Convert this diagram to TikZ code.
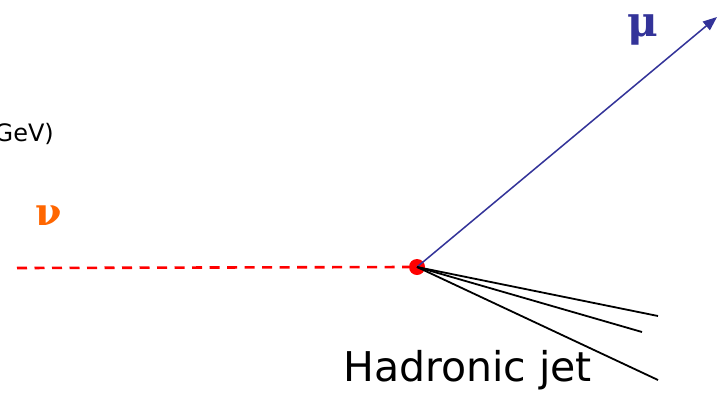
\documentclass[tikz,border=0pt]{standalone}
\usepackage{fontspec}
\setmainfont{DejaVu Sans}
\newfontfamily\symfont{DejaVu Serif}
\usetikzlibrary{arrows.meta}
\definecolor{mublue}{RGB}{51,51,153}
\definecolor{nuorange}{RGB}{255,102,0}
\tikzset{
  jetline/.style={black, line width=1.8pt},
  nuline/.style={red, line width=2.6pt, dash pattern=on 10pt off 7.5pt},
  muline/.style={mublue, line width=1.5pt, -{Triangle[length=14pt,width=11pt]}},
}
\begin{document}
\begin{tikzpicture}[x=1pt,y=-1pt]
\useasboundingbox (0,0) rectangle (719,394);
\fill[white] (0,0) rectangle (719,394);
\coordinate (nustart) at (17,268);
\node[circle, fill=red, inner sep=0pt, minimum size=16pt] (v) at (417,267) {};
\coordinate (muend) at (717,17);
\coordinate (j1) at (658,316);
\coordinate (j2) at (642,332);
\coordinate (j3) at (658,380);
\draw[nuline] (nustart) -- (v.west);
\draw[muline] (v.center) -- (muend);
\draw[jetline] (v.center) -- (j1);
\draw[jetline] (v.center) -- (j2);
\draw[jetline] (v.center) -- (j3);
\node[text=mublue, font=\symfont\bfseries\fontsize{42}{48}\selectfont, anchor=center] (mu) at (643,30) {μ};
\node[text=nuorange, font=\symfont\bfseries\fontsize{38}{44}\selectfont, anchor=center] (nu) at (49,216) {ν};
\node[font=\fontsize{41}{48}\selectfont, anchor=base west, inner sep=0pt] (jet) at (343,381) {Hadronic jet};
\node[font=\fontsize{24}{28}\selectfont, anchor=base east, inner sep=0pt] (gev) at (54,141) {GeV)};
\end{tikzpicture}
\end{document}
